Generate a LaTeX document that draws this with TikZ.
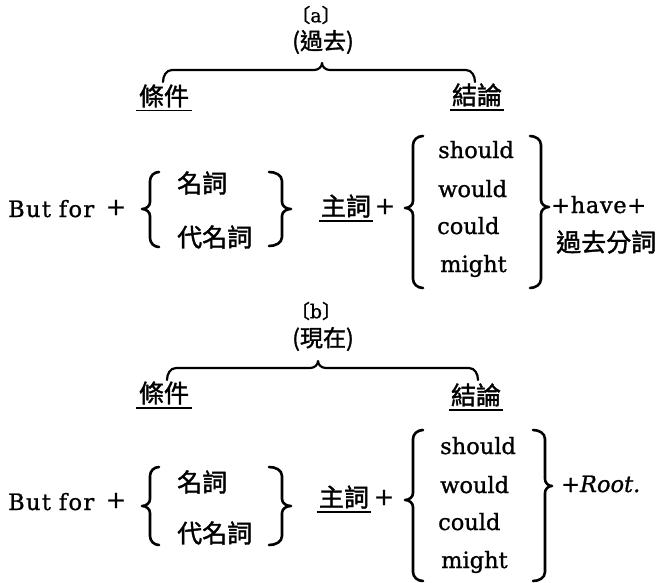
\documentclass[tikz,border=0pt]{standalone}
\usepackage{fontspec}
\setmainfont{DejaVu Serif}[FakeBold=1]
\newfontfamily\cjk{Noto Sans CJK TC}[FakeBold=1.5]
\tikzset{
  lat/.style={font=\fontsize{22.5}{24}\selectfont, inner sep=0pt, anchor=base west},
  plus/.style={font=\fontsize{24}{26}\selectfont, inner sep=0pt, anchor=base},
  cj/.style={font=\fontsize{25}{26}\selectfont\cjk, inner sep=0pt},
  ttl/.style={font=\fontsize{23}{25}\selectfont\cjk, inner sep=0pt},
  lbl/.style={font=\fontsize{19}{21}\selectfont, inner sep=0pt},
  bracestyle/.style={line width=2.6pt, line cap=round, line join=round},
  topbrace/.style={line width=2.2pt, line cap=round, line join=round},
  ul/.style={line width=1.6pt}
}
\newcommand\mylbr[6]{%
  \draw[bracestyle] (#1,#4) to[out=180,in=90] (#2,#4+9) -- (#2,#5-7)
    to[out=-90,in=0] (#3,#5) to[out=0,in=90] (#2,#5+7) -- (#2,#6-9)
    to[out=-90,in=180] (#1,#6);}
\newcommand\myrbr[6]{%
  \draw[bracestyle] (#1,#4) to[out=0,in=90] (#2,#4+9) -- (#2,#5-7)
    to[out=-90,in=180] (#3,#5) to[out=180,in=90] (#2,#5+7) -- (#2,#6-9)
    to[out=-90,in=0] (#1,#6);}
\newcommand\mytopbr[5]{% left x, right x, bar y, end y, tip x
  \draw[topbrace] (#1,#4) to[out=90,in=180] (#1+9,#3) -- (#5-8,#3)
    to[out=0,in=-90] (#5,#3-7) to[out=-90,in=180] (#5+8,#3) -- (#2-9,#3)
    to[out=0,in=90] (#2,#4);}
\begin{document}
\begin{tikzpicture}[x=1pt,y=-1pt]
\useasboundingbox (0,0) rectangle (666,583);

% ---------------- (a) ----------------
\node[lbl] (la) at (316,15) {{\cjk〔}a{\cjk〕}};
\node[ttl] (ta) at (323,42) {(過去)};
\mytopbr{163}{475}{70}{82}{322}
\node[cj] (conda) at (164,96) {條件};
\node[cj] (concla) at (477,95) {結論};
\draw[ul] ([yshift=-3pt,xshift=-3pt]conda.south west) -- ([yshift=-3pt,xshift=3pt]conda.south east);
\draw[ul] ([yshift=-3pt,xshift=-2pt]concla.south west) -- ([yshift=-3pt,xshift=2pt]concla.south east);

\node[lat] (bfa) at (8,217) {\addfontfeature{LetterSpace=6}But\hspace{0.35em}for};
\node[plus] (pa1) at (116,215) {+};
\mylbr{159}{150}{142}{172}{209}{247}
\node[cj,anchor=west] (na1) at (177,183) {名詞};
\node[cj,anchor=west] (na2) at (177,237) {代名詞};
\myrbr{269}{282}{291}{172}{209}{246}

\node[cj] (subja) at (346,206) {主詞};
\draw[ul] ([yshift=-3pt,xshift=-2pt]subja.south west) -- ([yshift=-3pt,xshift=2pt]subja.south east);
\node[plus] (pa2) at (385,214) {+};
\mylbr{423}{413}{405}{136}{208}{288}
\node[lat] (sha) at (438,158) {should};
\node[lat] (woa) at (438,197) {would};
\node[lat] (coa) at (437,234) {could};
\node[lat] (mia) at (440,272) {might};
\myrbr{530}{541}{549}{136}{207}{288}
\node[lat] (hava) at (551,213) {\addfontfeature{LetterSpace=3}+have+};
\node[cj,anchor=west] (ppa) at (556,242) {過去分詞};

% ---------------- (b) ----------------
\node[lbl] (lb) at (316,311) {{\cjk〔}b{\cjk〕}};
\node[ttl] (tb) at (323,339) {(現在)};
\mytopbr{167}{478}{368}{380}{318}
\node[cj] (condb) at (164,393) {條件};
\node[cj] (conclb) at (476,395) {結論};
\draw[ul] ([yshift=-3pt,xshift=-3pt]condb.south west) -- ([yshift=-3pt,xshift=3pt]condb.south east);
\draw[ul] ([yshift=-3pt,xshift=-2pt]conclb.south west) -- ([yshift=-3pt,xshift=2pt]conclb.south east);

\node[lat] (bfb) at (8,510) {\addfontfeature{LetterSpace=6}But\hspace{0.35em}for};
\node[plus] (pb1) at (116,508) {+};
\mylbr{159}{150}{142}{467}{506}{545}
\node[cj,anchor=west] (nb1) at (177,482) {名詞};
\node[cj,anchor=west] (nb2) at (177,533) {代名詞};
\myrbr{269}{282}{291}{467}{506}{545}

\node[cj] (subjb) at (344,497) {主詞};
\draw[ul] ([yshift=-3pt,xshift=-2pt]subjb.south west) -- ([yshift=-3pt,xshift=2pt]subjb.south east);
\node[plus] (pb2) at (384,505) {+};
\mylbr{423}{413}{405}{430}{500}{581}
\node[lat] (shb) at (440,454) {should};
\node[lat] (wob) at (440,493) {would};
\node[lat] (cob) at (438,530) {could};
\node[lat] (mib) at (441,568) {might};
\myrbr{533}{545}{552}{430}{486}{581}
\node[lat] (rootb) at (561,492) {+\textit{Root.}};
\end{tikzpicture}
\end{document}
